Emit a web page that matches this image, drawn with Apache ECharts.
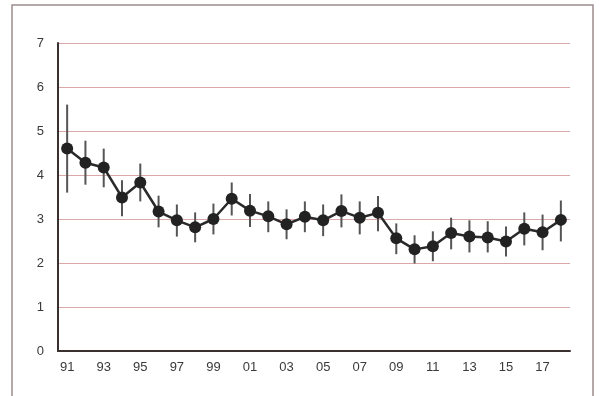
<!DOCTYPE html>
<html><head><meta charset="utf-8">
<script src="https://cdn.jsdelivr.net/npm/echarts@6/dist/echarts.min.js"></script>
<style>html,body{margin:0;padding:0;background:#fff}#c{width:605px;height:396px}</style>
</head><body><div id="c"></div>
<script>
const years = ['91','92','93','94','95','96','97','98','99','00','01','02','03','04','05','06','07','08','09','10','11','12','13','14','15','16','17','18'];
const means = [4.60,4.28,4.17,3.49,3.83,3.17,2.97,2.81,3.00,3.46,3.19,3.06,2.88,3.05,2.97,3.18,3.03,3.14,2.56,2.31,2.38,2.68,2.60,2.58,2.49,2.78,2.70,2.98];
const upper = [5.60,4.78,4.60,3.88,4.26,3.53,3.33,3.15,3.35,3.83,3.57,3.40,3.22,3.40,3.33,3.56,3.40,3.52,2.90,2.63,2.72,3.03,2.97,2.95,2.83,3.15,3.10,3.42];
const lower = [3.60,3.78,3.72,3.06,3.40,2.81,2.60,2.47,2.65,3.08,2.82,2.70,2.54,2.70,2.61,2.81,2.65,2.72,2.20,1.99,2.04,2.31,2.24,2.24,2.15,2.40,2.29,2.49];
const yTicks = [0,1,2,3,4,5,6,7];

const chart = echarts.init(document.getElementById('c'));
const errData = years.map((y,i)=>[i, lower[i], upper[i]]);
chart.setOption({
  animation:false,
  backgroundColor:'#fff',
  graphic:[{type:'rect',shape:{x:12,y:5,width:581,height:400},style:{fill:'none',stroke:'#9c8c8c',lineWidth:1.5},z:-1}],
  grid:{left:58,right:35,top:43,bottom:45},
  xAxis:{type:'category',data:years,boundaryGap:true,
    axisLine:{lineStyle:{color:'#3a3030',width:2}},
    axisTick:{show:false},
    axisLabel:{interval:1,color:'#3a3a3a',fontSize:13,fontFamily:'Liberation Sans, Arial',margin:10}},
  yAxis:{type:'value',min:0,max:7,interval:1,
    axisLine:{show:true,lineStyle:{color:'#3a3030',width:2}},
    axisTick:{show:false},
    axisLabel:{color:'#3a3a3a',fontSize:13,fontFamily:'Liberation Sans, Arial',margin:14,
      formatter:v=>yTicks.includes(v)?String(v):''},
    splitLine:{lineStyle:{color:'#dba8a8',width:1,type:'solid'}}},
  series:[
    {type:'custom',data:errData,z:2,
      renderItem:function(params,api){
        const x=api.coord([api.value(0),api.value(1)]);
        const t=api.coord([api.value(0),api.value(2)]);
        return {type:'line',shape:{x1:x[0],y1:x[1],x2:t[0],y2:t[1]},style:{stroke:'#555',lineWidth:2}};
      },
      encode:{x:0,y:[1,2]}},
    {type:'line',data:means,z:3,symbol:'circle',symbolSize:12,
      lineStyle:{color:'#2a2a2a',width:2.5},itemStyle:{color:'#222'}}
  ]
});
</script></body></html>
